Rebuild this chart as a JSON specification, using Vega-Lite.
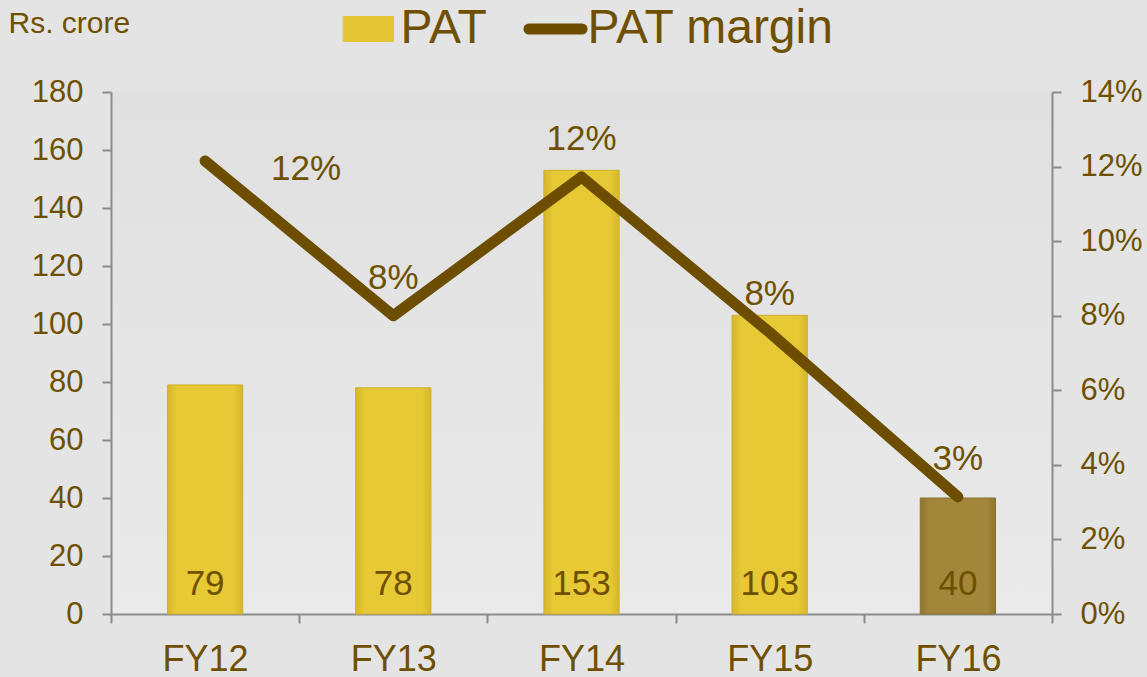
{
  "$schema": "https://vega.github.io/schema/vega-lite/v6.json",
  "width": 941,
  "height": 522,
  "autosize": {"type": "none"},
  "padding": {"left": 111, "top": 92, "right": 95, "bottom": 63},
  "background": "#e4e4e4",
  "config": {
    "font": "Liberation Sans",
    "view": {
      "stroke": null,
      "fill": {
        "gradient": "linear", "x1": 0, "y1": 0, "x2": 0, "y2": 1,
        "stops": [{"offset": 0, "color": "#e0e0e0"}, {"offset": 1, "color": "#eaeaea"}]
      }
    },
    "axis": {
      "grid": false,
      "domainColor": "#8c8c8c",
      "domainWidth": 2,
      "tickColor": "#8c8c8c",
      "tickWidth": 2,
      "tickSize": 9,
      "labelColor": "#6E5000",
      "labelFont": "Liberation Sans",
      "titleFont": "Liberation Sans"
    }
  },
  "data": {
    "values": [
      {"year": "FY12", "pat": 79, "margin": 0.1215},
      {"year": "FY13", "pat": 78, "margin": 0.080},
      {"year": "FY14", "pat": 153, "margin": 0.1172},
      {"year": "FY15", "pat": 103, "margin": 0.0755},
      {"year": "FY16", "pat": 40, "margin": 0.0314}
    ]
  },
  "encoding": {
    "x": {
      "field": "year",
      "type": "nominal",
      "sort": null,
      "scale": {"paddingInner": 0, "paddingOuter": 0},
      "axis": {
        "title": null,
        "labelAngle": 0,
        "labelFontSize": 36,
        "labelPadding": 19,
        "labelBaseline": "top",
        "tickBand": "extent"
      }
    }
  },
  "layer": [
    {
      "layer": [
        {
          "mark": {"type": "bar", "strokeWidth": 1, "width": {"band": 0.4}},
          "encoding": {
            "y": {
              "field": "pat",
              "type": "quantitative",
              "scale": {"domain": [0, 180], "nice": false},
              "axis": {
                "values": [0, 20, 40, 60, 80, 100, 120, 140, 160, 180],
                "labelFontSize": 31,
                "labelPadding": 19,
                "title": "Rs. crore",
                "titleAngle": 0,
                "titleAlign": "left",
                "titleBaseline": "alphabetic",
                "titleX": -103,
                "titleY": -60,
                "titleFontSize": 30,
                "titleFontWeight": "normal",
                "titleColor": "#6E5000"
              }
            },
            "fill": {
              "condition": {
                "test": "datum.year === 'FY16'",
                "value": {
                  "gradient": "linear", "x1": 0, "y1": 0, "x2": 1, "y2": 0,
                  "stops": [
                    {"offset": 0, "color": "#8f7530"},
                    {"offset": 0.12, "color": "#a2873a"},
                    {"offset": 0.88, "color": "#a2873a"},
                    {"offset": 1, "color": "#8f7530"}
                  ]
                }
              },
              "value": {
                "gradient": "linear", "x1": 0, "y1": 0, "x2": 1, "y2": 0,
                "stops": [
                  {"offset": 0, "color": "#d6b62c"},
                  {"offset": 0.12, "color": "#e6c934"},
                  {"offset": 0.88, "color": "#e6c934"},
                  {"offset": 1, "color": "#d6b62c"}
                ]
              }
            },
            "stroke": {
              "condition": {"test": "datum.year === 'FY16'", "value": "#8a7030"},
              "value": "#cdb030"
            }
          }
        },
        {
          "mark": {"type": "text", "dy": -30, "fontSize": 35, "color": "#6E5000", "baseline": "middle"},
          "encoding": {
            "y": {"datum": 0, "type": "quantitative", "axis": {"title": "Rs. crore"}},
            "text": {"field": "pat", "type": "quantitative"}
          }
        }
      ]
    },
    {
      "layer": [
        {
          "mark": {"type": "line", "strokeWidth": 11, "strokeCap": "round", "strokeJoin": "round"},
          "encoding": {
            "y": {
              "field": "margin",
              "type": "quantitative",
              "scale": {"domain": [0, 0.14], "nice": false},
              "axis": {
                "orient": "right",
                "format": ".0%",
                "values": [0, 0.02, 0.04, 0.06, 0.08, 0.10, 0.12, 0.14],
                "labelFontSize": 31,
                "labelPadding": 19,
                "title": null
              }
            },
            "color": {
              "datum": "PAT margin",
              "type": "nominal",
              "scale": {"domain": ["PAT", "PAT margin"], "range": ["#E3C435", "#6D4D00"]},
              "legend": {
                "orient": "none",
                "legendX": 233.5,
                "legendY": -87,
                "direction": "horizontal",
                "title": null,
                "padding": 0,
                "labelFontSize": 48,
                "labelColor": "#6E5000",
                "labelFont": "Liberation Sans",
                "labelLimit": 400,
                "labelOffset": 8,
                "columnPadding": 19,
                "symbolSize": 4096,
                "symbolStrokeWidth": 1,
                "encode": {
                  "symbols": {
                    "update": {
                      "shape": {"signal": "datum.value === 'PAT' ? 'M-0.78,-0.39H0.78V0.39H-0.78Z' : 'M-0.83,0H0.83'"},
                      "fill": {"signal": "datum.value === 'PAT' ? '#E3C435' : 'transparent'"},
                      "stroke": {"signal": "datum.value === 'PAT' ? '#c4a12c' : '#6D4D00'"},
                      "strokeWidth": {"signal": "datum.value === 'PAT' ? 1 : 11"},
                      "strokeCap": {"value": "round"},
                      "opacity": {"value": 1}
                    }
                  }
                }
              }
            }
          }
        },
        {
          "transform": [{"filter": "datum.year !== 'FY12'"}],
          "mark": {"type": "text", "dy": -38, "fontSize": 35, "color": "#6E5000", "baseline": "middle"},
          "encoding": {
            "y": {"field": "margin", "type": "quantitative"},
            "text": {"field": "margin", "type": "quantitative", "format": ".0%"}
          }
        },
        {
          "transform": [{"filter": "datum.year === 'FY12'"}],
          "mark": {"type": "text", "dx": 101, "dy": 8, "fontSize": 35, "color": "#6E5000", "baseline": "middle"},
          "encoding": {
            "y": {"field": "margin", "type": "quantitative"},
            "text": {"field": "margin", "type": "quantitative", "format": ".0%"}
          }
        }
      ]
    }
  ],
  "resolve": {"scale": {"y": "independent"}}
}
